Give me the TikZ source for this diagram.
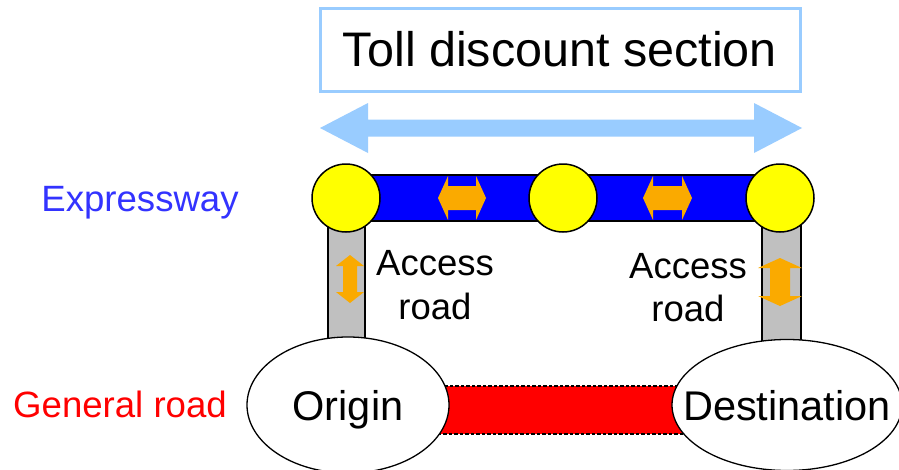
\documentclass[tikz,border=0pt]{standalone}
\usepackage{fontspec}
\setmainfont{Liberation Sans}
\usetikzlibrary{shapes.geometric}
\definecolor{lblue}{HTML}{99CCFF}
\definecolor{exblue}{HTML}{0000FF}
\definecolor{exlabel}{HTML}{3333FF}
\definecolor{roadgray}{HTML}{C0C0C0}
\definecolor{junctionyellow}{HTML}{FFFF00}
\definecolor{arrorange}{HTML}{FAAA00}
\definecolor{genred}{HTML}{FF0000}
\begin{document}
\begin{tikzpicture}[x=1pt,y=-1pt,
  junction/.style={circle,draw=black,fill=junctionyellow,line width=1.5pt,minimum size=68pt,inner sep=0pt},
  place/.style={ellipse,draw=black,fill=white,line width=1.3pt,inner sep=0pt,text depth=0pt,font=\fontsize{41.5}{48}\selectfont},
  titlebox/.style={draw=lblue,line width=3pt,minimum width=480pt,minimum height=83pt,inner sep=0pt,font=\fontsize{48.5}{55}\selectfont},
  lbl/.style={align=center,inner sep=0pt,font=\fontsize{36.5}{43.5}\selectfont},
  sidelbl/.style={anchor=base,inner sep=0pt,font=\fontsize{36.6}{42}\selectfont},
  accessroad/.style={draw=black,fill=roadgray,line width=1.2pt},
  exway/.style={draw=black,fill=exblue,line width=1.2pt},
  genroad/.style={draw=black,fill=genred,line width=1.2pt,dash pattern=on 3.5pt off 2pt},
  pics/dbl/.style n args={5}{code={
    \fill[#5] (-#1,0) -- (-#1+#4,-#3) -- (-#1+#4,-#2) -- (#1-#4,-#2) -- (#1-#4,-#3)
      -- (#1,0) -- (#1-#4,#3) -- (#1-#4,#2) -- (-#1+#4,#2) -- (-#1+#4,#3) -- cycle;}}
]
\useasboundingbox (0,0) rectangle (899,469);
\fill[white] (0,0) rectangle (899,469);

% positions
\coordinate (J1) at (346,198);
\coordinate (J2) at (563,198);
\coordinate (J3) at (780,198);
\coordinate (O) at (348,405);
\coordinate (D) at (787,405);

% title and section arrow
\node[titlebox] (title) at (560,49.5) {Toll discount section};
\pic at (561,128) {dbl={241}{8.5}{25}{48}{lblue}};

% access roads (behind junctions and places)
\draw[accessroad] ([xshift=-18pt]J1) rectangle ([xshift=19pt]J1 |- O);
\draw[accessroad] ([xshift=-18pt]J3) rectangle ([xshift=21pt]J3 |- D);

% expressway bar
\draw[exway] ([yshift=23pt]J1) rectangle ([yshift=-23pt]J3);

% general road bar
\draw[genroad] ([yshift=19pt]O) rectangle ([yshift=-29pt]D);

% junctions
\node[junction] (j1) at (J1) {};
\node[junction] (j2) at (J2) {};
\node[junction] (j3) at (J3) {};

% places
\node[place,minimum width=202pt,minimum height=136pt] (orig) at (O) {\makebox[0pt]{Origin}};
\node[place,minimum width=230pt,minimum height=131pt] (dest) at (D) {\makebox[0pt]{Destination}};

% orange two-way arrows
\pic at (462,198) {dbl={24}{12}{22}{10}{arrorange}};
\pic at (667.5,198) {dbl={24.5}{12}{22}{10}{arrorange}};
\pic[rotate=90] at (350,279) {dbl={24}{7}{14}{11}{arrorange}};
\pic[rotate=90] at (780,282) {dbl={24}{10}{22}{10}{arrorange}};

% labels
\node[lbl] (acc1) at (435,285) {Access\\road};
\node[lbl] (acc2) at (688,287.5) {Access\\road};
\node[sidelbl,text=exlabel] (exlbl) at (140,211) {Expressway};
\node[sidelbl,text=genred] (genlbl) at (120,417) {General road};
\end{tikzpicture}
\end{document}
